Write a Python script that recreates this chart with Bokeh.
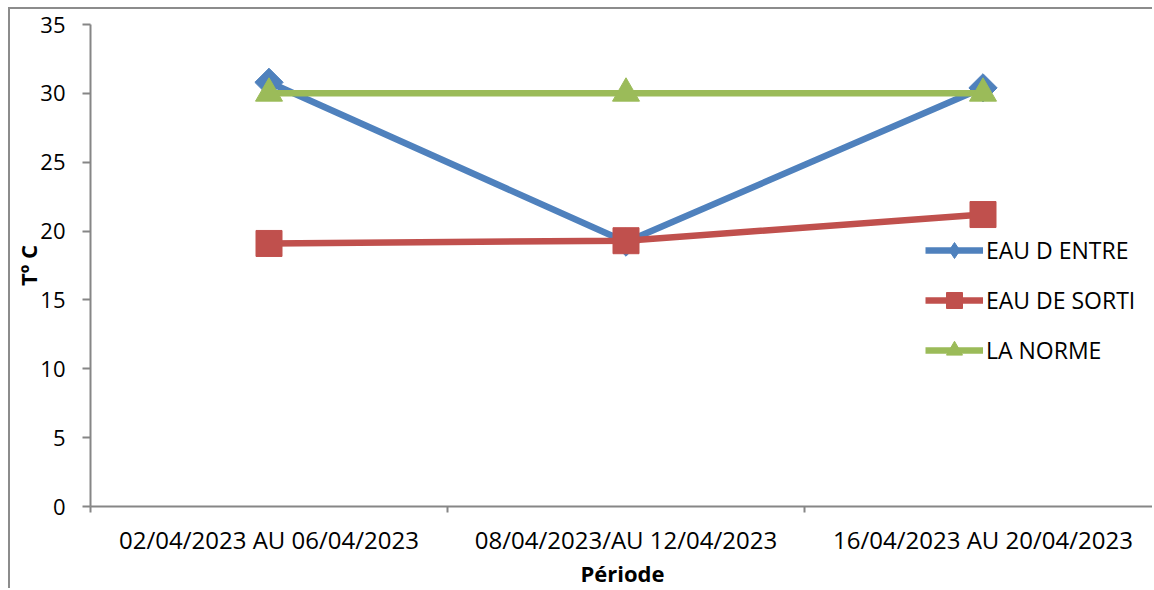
import math
from bokeh.plotting import figure
from bokeh.models import Range1d, FixedTicker, Legend, LegendItem
from bokeh.embed import file_html
from bokeh.resources import INLINE

categories = ["02/04/2023 AU 06/04/2023", "08/04/2023/AU 12/04/2023", "16/04/2023 AU 20/04/2023"]
eau_entre = [30.8, 19.2, 30.4]
eau_sorti = [19.1, 19.3, 21.2]
la_norme = [30, 30, 30]
y_ticks = [0, 5, 10, 15, 20, 25, 30, 35]

xs = [i + 0.5 for i in range(len(categories))]

FONT = "Open Sans"

p = figure(width=1144, height=581, output_backend="svg", toolbar_location=None,
           x_range=Range1d(0, 1064 / 357), y_range=Range1d(0, 35),
           min_border_left=80, min_border_right=0, min_border_top=15, min_border_bottom=84)
p.styles = {"margin-left": "8px", "margin-top": "7px",
            "border-left": "2px solid #8c8c8c", "border-top": "2px solid #8c8c8c"}
p.outline_line_color = None
p.xgrid.visible = False
p.ygrid.visible = False

blue, red, green = "#4F81BD", "#C0504D", "#9BBB59"

l1 = p.line(xs, eau_entre, line_color=blue, line_width=6.5)
# diamond used for the legend (hidden beneath the rotated square in the plot)
m1_leg = p.scatter(xs, eau_entre, marker="diamond", size=20, fill_color=blue, line_color=blue)
m1 = p.scatter(xs, eau_entre, marker="square", angle=math.pi / 4, size=20,
               fill_color=blue, line_color=blue)
l2 = p.line(xs, eau_sorti, line_color=red, line_width=6.5)
m2 = p.scatter(xs, eau_sorti, marker="square", size=26, fill_color=red, line_color=red)
l3 = p.line(xs, la_norme, line_color=green, line_width=6.5)
m3 = p.scatter(xs, la_norme, marker="triangle", size=27, fill_color=green, line_color=green)

p.xaxis.ticker = FixedTicker(ticks=xs, minor_ticks=[0, 1, 2, 3])
p.xaxis.major_label_overrides = {x: c for x, c in zip(xs, categories)}
p.xaxis.major_tick_out = 0
p.xaxis.major_tick_in = 0
p.xaxis.minor_tick_out = 6
p.xaxis.minor_tick_in = 0
p.xaxis.minor_tick_line_color = "#868686"
p.xaxis.minor_tick_line_width = 2
p.xaxis.major_label_standoff = 10
p.xaxis.axis_label = "Période"
p.xaxis.axis_label_standoff = -1
p.xaxis.major_label_text_font_size = "24px"

p.yaxis.ticker = FixedTicker(ticks=y_ticks, minor_ticks=[])
p.yaxis.major_tick_out = 8
p.yaxis.major_tick_in = 0
p.yaxis.major_tick_line_color = "#868686"
p.yaxis.major_tick_line_width = 2
p.yaxis.major_label_standoff = 17
p.yaxis.axis_label = "Tº C"
p.yaxis.axis_label_standoff = -6
p.yaxis.major_label_text_font_size = "22px"

for ax in (p.xaxis, p.yaxis):
    ax.axis_line_color = "#868686"
    ax.axis_line_width = 2
    ax.major_label_text_font = FONT
    ax.major_label_text_color = "#000000"
    ax.axis_label_text_font = FONT
    ax.axis_label_text_font_size = "22px"
    ax.axis_label_text_font_style = "bold"
    ax.axis_label_text_color = "#000000"

legend = Legend(items=[
    LegendItem(label="EAU D ENTRE", renderers=[l1, m1_leg]),
    LegendItem(label="EAU DE SORTI", renderers=[l2, m2]),
    LegendItem(label="LA NORME", renderers=[l3, m3]),
], location=(835, 136))
legend.border_line_color = None
legend.background_fill_alpha = 0
legend.padding = 0
legend.margin = 0
legend.spacing = 10
legend.glyph_height = 40
legend.glyph_width = 58
legend.label_standoff = 3
legend.label_text_font = FONT
legend.label_text_font_size = "23px"
legend.label_text_color = "#000000"
p.add_layout(legend)

open("out.html", "w").write(file_html(p, INLINE))
